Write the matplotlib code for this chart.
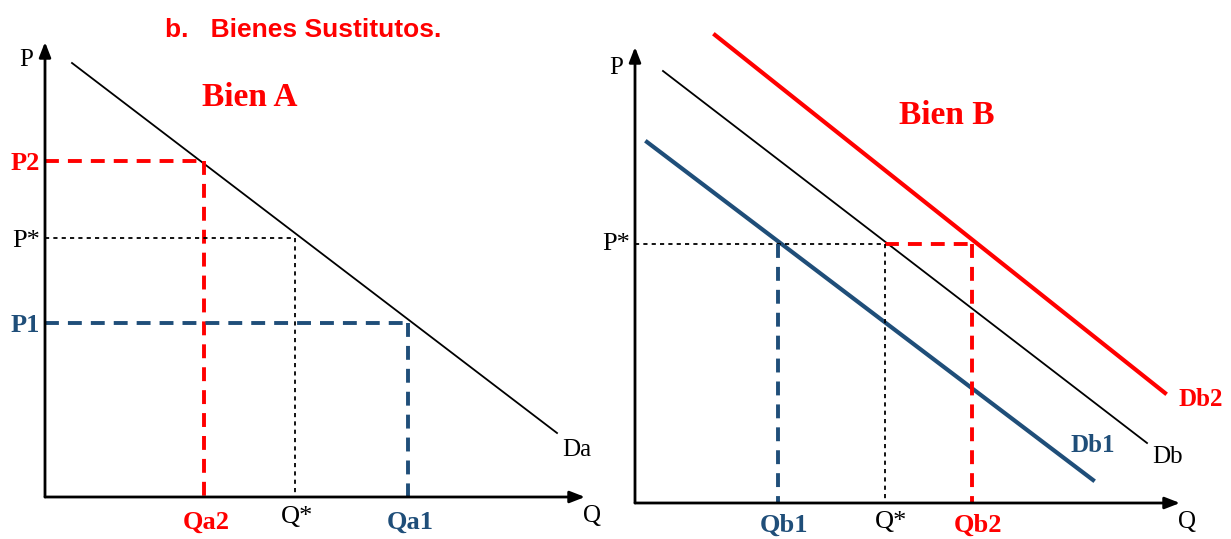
import matplotlib.pyplot as plt

# ---- data (Q, P) per panel, origin at the axis corner ----
# Bien A
da_q = [27, 512]
da_p = [434, 64]
qa_labels = ["Qa2", "Q*", "Qa1"]
qa_vals = [159, 250, 363]
pa_labels = ["P2", "P*", "P1"]
pa_vals = [336, 259, 174]

# Bien B
db_q = [28, 512]
db_p = [432, 60]
db1_q = [12, 458]
db1_p = [361, 23]
db2_q = [80, 530]
db2_p = [468, 110]
qb_labels = ["Qb1", "Q*", "Qb2"]
qb_vals = [143, 250, 337]
pb_star = 259

RED = "#FF0000"
BLUE = "#1F4E79"
SERIF = "Liberation Serif"

plt.rcParams["lines.scale_dashes"] = False
DASH = (10, 6.5)
DOT = (3, 3)


def draw_axes(ax, qmax, pmax, p_off):
    ax.annotate("", xy=(qmax, 0), xytext=(0, 0),
                arrowprops=dict(arrowstyle="-|>,head_length=0.9,head_width=0.35",
                                lw=2, color="black", shrinkA=0, shrinkB=0))
    ax.annotate("", xy=(0, pmax), xytext=(0, 0),
                arrowprops=dict(arrowstyle="-|>,head_length=0.9,head_width=0.35",
                                lw=2, color="black", shrinkA=0, shrinkB=0))
    ax.text(-12, pmax - p_off, "P", ha="right", va="center", fontsize=18, family=SERIF)
    ax.text(qmax - 2, -19, "Q", ha="left", va="center", fontsize=18, family=SERIF)


fig = plt.figure(figsize=(12.31, 5.39), dpi=100)

# ---- left panel ----
axa = fig.add_axes([0, 0, 615 / 1231, 1])
axa.set_xlim(-45, 570)
axa.set_ylim(-42, 497)
axa.axis("off")
draw_axes(axa, 540, 455, 18)

axa.plot(da_q, da_p, color="black", lw=1.3)
axa.text(da_q[1] + 5, da_p[1] - 17, "Da", fontsize=18, family=SERIF, ha="left", va="center")

cols_a = [RED, "black", BLUE]
for i in range(3):
    c = cols_a[i]
    dash = DOT if c == "black" else DASH
    lw = 1.3 if c == "black" else 2.8
    axa.plot([0, qa_vals[i]], [pa_vals[i], pa_vals[i]], color=c, lw=lw, dashes=dash)
    axa.plot([qa_vals[i], qa_vals[i]], [pa_vals[i], 0], color=c, lw=lw, dashes=dash)
    w = "normal" if c == "black" else "bold"
    dy = -20 if c == "black" else -25
    axa.text(qa_vals[i] + 2, dy, qa_labels[i], color=c, fontsize=19, fontweight=w,
             family=SERIF, ha="center", va="center")
    axa.text(-5, pa_vals[i] - 3, pa_labels[i], color=c, fontsize=19, fontweight=w,
             family=SERIF, ha="right", va="center")

axa.text(205, 400, "Bien A", color=RED, fontsize=24, fontweight="bold", family=SERIF,
         ha="center", va="center")

# ---- right panel ----
axb = fig.add_axes([615 / 1231, 0, 616 / 1231, 1])
axb.set_xlim(-20, 596)
axb.set_ylim(-36, 503)
axb.axis("off")
draw_axes(axb, 545, 456, 21)

axb.plot(db_q, db_p, color="black", lw=1.3)
axb.plot(db1_q, db1_p, color=BLUE, lw=3)
axb.plot(db2_q, db2_p, color=RED, lw=3)
axb.text(db_q[1] + 5, db_p[1] - 14, "Db", fontsize=18, family=SERIF, ha="left", va="center")
axb.text(db1_q[1], db1_p[1] + 35, "Db1", color=BLUE, fontsize=18, fontweight="bold",
         family=SERIF, ha="center", va="center")
axb.text(db2_q[1] + 36, db2_p[1] - 7, "Db2", color=RED, fontsize=18, fontweight="bold",
         family=SERIF, ha="center", va="center")

axb.plot([0, qb_vals[1]], [pb_star, pb_star], color="black", lw=1.3, dashes=DOT)
axb.plot([qb_vals[1], qb_vals[2]], [pb_star, pb_star], color=RED, lw=2.8, dashes=DASH)
cols_b = [BLUE, "black", RED]
for i in range(3):
    c = cols_b[i]
    dash = DOT if c == "black" else DASH
    lw = 1.3 if c == "black" else 2.8
    axb.plot([qb_vals[i], qb_vals[i]], [pb_star, 0], color=c, lw=lw, dashes=dash)
    w = "normal" if c == "black" else "bold"
    dy = -19 if c == "black" else -22
    axb.text(qb_vals[i] + 6, dy, qb_labels[i], color=c, fontsize=19, fontweight=w,
             family=SERIF, ha="center", va="center")
axb.text(-5, pb_star, "P*", fontsize=19, family=SERIF, ha="right", va="center")

axb.text(312, 388, "Bien B", color=RED, fontsize=24, fontweight="bold", family=SERIF,
         ha="center", va="center")

fig.text(165 / 1231, 1 - 30 / 539, "b.   Bienes Sustitutos.", color=RED, fontsize=19,
         fontweight="bold", family="Liberation Sans", ha="left", va="center")

fig.savefig("out.png", dpi=100)
